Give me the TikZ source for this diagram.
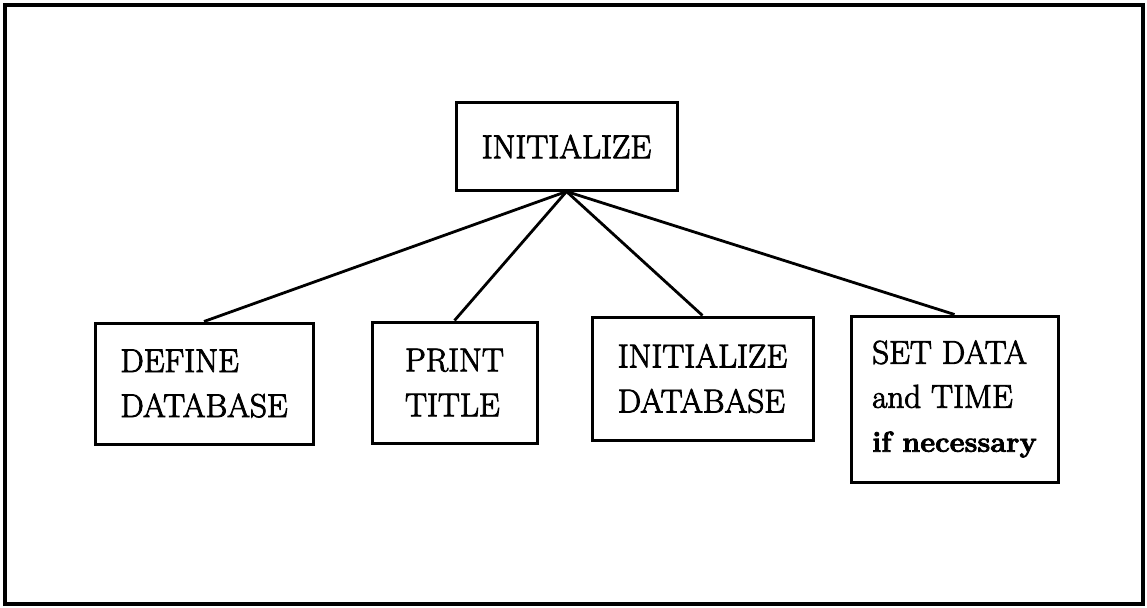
\documentclass[tikz,border=0pt]{standalone}
\usepackage{fontspec}
\setmainfont{Latin Modern Roman}[RawFeature={embolden=2.6}]
\begin{document}
\begin{tikzpicture}[x=1pt, y=-1pt,
  box/.style={draw, line width=3pt, inner sep=0pt, align=left,
    font=\fontsize{33}{45}\selectfont},
  link/.style={line width=2.8pt}]
  % page frame
  \useasboundingbox (0,0) rectangle (1147,607);
  \draw[line width=3.5pt] (5,5) rectangle (1143,604);

  % root
  \node[box, minimum width=221pt, minimum height=87pt] (init) at (566.5,146.5) {INITIALIZE};

  % children
  \node[box, minimum width=218pt, minimum height=121pt] (define) at (204,383.5)
    {DEFINE\\DATABASE};
  \node[box, minimum width=165pt, minimum height=121pt] (print) at (454.5,382.5)
    {PRINT\\TITLE};
  \node[box, minimum width=221pt, minimum height=123pt] (initdb) at (702.5,378.5)
    {INITIALIZE\\DATABASE};
  \node[box, minimum width=207pt, minimum height=166pt,
    font=\fontsize{33}{44}\selectfont] (setdt) at (954.5,399)
    {SET DATA\\and TIME\\{\bfseries\fontsize{29}{44}\selectfont if necessary}};

  % connectors
  \foreach \c in {define, print, initdb, setdt}
    \draw[link] (init.south) -- (\c.north);
\end{tikzpicture}
\end{document}
